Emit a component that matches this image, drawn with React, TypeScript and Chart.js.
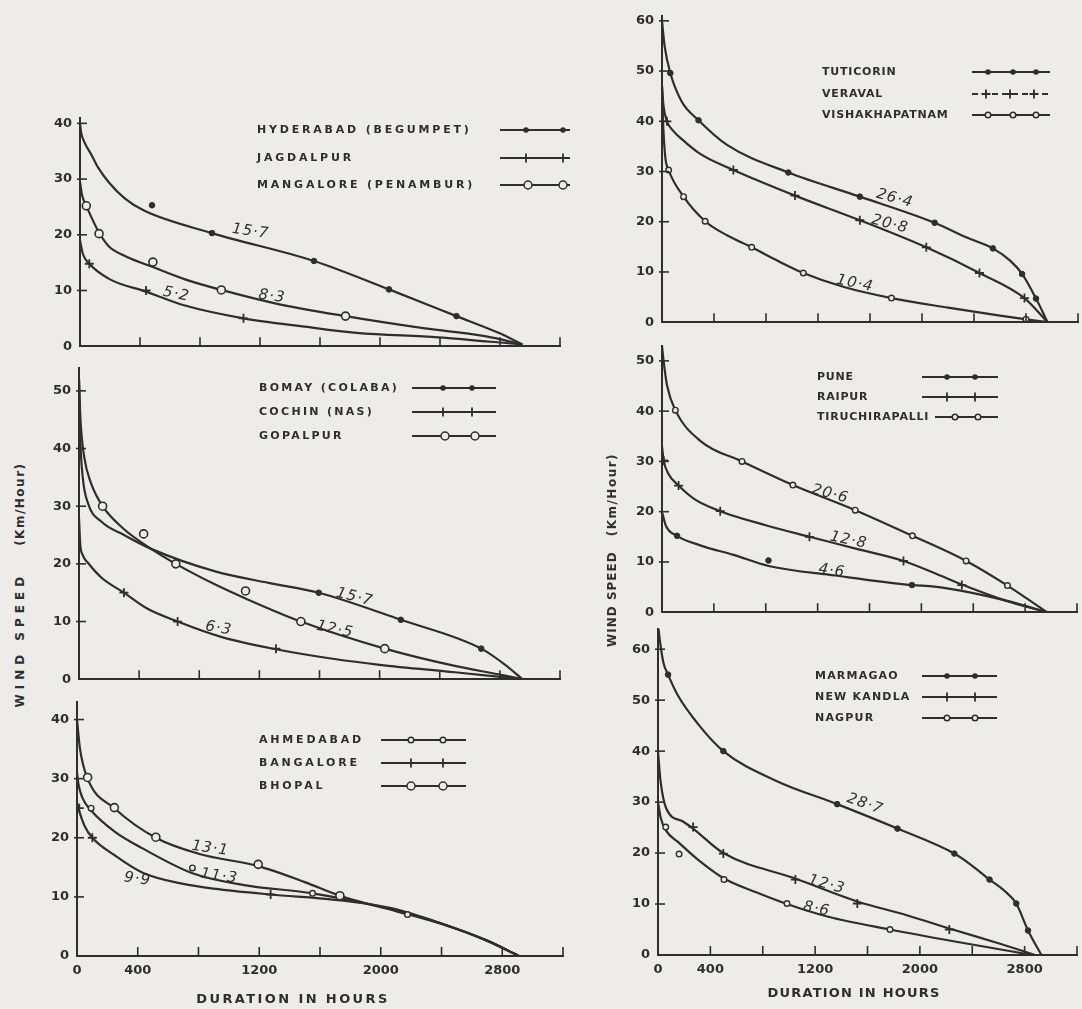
import React, { useEffect, useRef } from "react";
import { Chart, registerables } from "chart.js";
Chart.register(...registerables);

const PAPER = "#edece8";
const INK = "#2e2e2e";
const FONT = "'DejaVu Sans', 'Liberation Sans', sans-serif";

// ---------- axes ----------
const xTickValues = [0, 400, 800, 1200, 1600, 2000, 2400, 2800, 3200];
const xTickLabels = ["0", "400", "", "1200", "", "2000", "", "2800", ""];
const yTicks40 = [0, 10, 20, 30, 40];
const yTicks50 = [0, 10, 20, 30, 40, 50];
const yTicks60 = [0, 10, 20, 30, 40, 50, 60];

// ---------- panel 1 ----------
const hydHours = [0, 8, 30, 75, 120, 193, 300, 430, 880, 1560, 2060, 2510, 2790, 2950];
const hydSpeed = [40, 38.3, 36.6, 34.4, 32.1, 29.4, 26.5, 24.3, 20.3, 15.3, 10.2, 5.4, 2.4, 0.3];
const hydMarkHours = [480, 880, 1560, 2060, 2510];
const hydMarkSpeed = [25.3, 20.3, 15.3, 10.2, 5.4];
const jagHours = [0, 20, 62, 200, 440, 700, 1090, 1500, 1845, 2388, 2950];
const jagSpeed = [19, 16.5, 14.8, 12, 9.8, 7.3, 5.0, 3.5, 2.4, 1.6, 0.3];
const jagMarkHours = [62, 440, 1090];
const jagMarkSpeed = [14.8, 10, 5];
const manHours = [0, 15, 42, 127, 193, 300, 486, 700, 942, 1300, 1770, 2300, 2700, 2950];
const manSpeed = [29.5, 27, 25.2, 20.4, 17.9, 16.2, 14.2, 12, 10.1, 7.7, 5.4, 3.2, 1.8, 0.3];
const manMarkHours = [42, 127, 486, 942, 1770];
const manMarkSpeed = [25.2, 20.2, 15.1, 10.1, 5.4];
const p1LabelText = ["15·7", "5·2", "8·3"];
const p1LabelHours = [1137, 642, 1279];
const p1LabelSpeed = [20.6, 9.3, 8.9];
const p1LabelRot = [8, 12, 8];

// ---------- panel 2 ----------
const bomHours = [0, 8, 25, 60, 150, 300, 480, 906, 1262, 1595, 2141, 2676, 2850, 2950];
const bomSpeed = [52, 42, 35, 30.5, 27.3, 25, 22.6, 18.7, 16.7, 15, 10.3, 5.3, 2.2, 0];
const bomMarkHours = [1595, 2141, 2676];
const bomMarkSpeed = [15, 10.3, 5.3];
const cocHours = [0, 8, 25, 62, 150, 299, 450, 656, 950, 1310, 1700, 2000, 2500, 2950];
const cocSpeed = [28, 23.5, 21.5, 20.1, 17.6, 15, 12.3, 10, 7.3, 5.2, 3.5, 2.5, 1.2, 0];
const cocMarkHours = [299, 656, 1310];
const cocMarkSpeed = [15, 10, 5.3];
const gopHours = [0, 10, 35, 80, 157, 300, 480, 644, 900, 1108, 1476, 2034, 2500, 2800, 2950];
const gopSpeed = [52, 45, 38.5, 34, 30, 26, 22.6, 20, 16.5, 14, 10, 5.3, 2.3, 0.8, 0];
const gopMarkHours = [157, 430, 644, 1108, 1476, 2034];
const gopMarkSpeed = [30, 25.2, 20, 15.3, 10, 5.3];
const p2LabelText = ["15·7", "12·5", "6·3"];
const p2LabelHours = [1833, 1702, 929];
const p2LabelSpeed = [14.2, 8.6, 8.8];
const p2LabelRot = [14, 12, 10];

// ---------- panel 3 ----------
const ahmHours = [0, 10, 35, 93, 250, 432, 760, 1100, 1551, 2000, 2400, 2700, 2910];
const ahmSpeed = [31, 29, 26.8, 24.6, 21, 18.2, 14, 12, 10.6, 8.3, 5.5, 2.6, 0];
const ahmMarkHours = [93, 760, 1551, 2176];
const ahmMarkSpeed = [25, 14.9, 10.6, 7.0];
const banHours = [0, 15, 50, 101, 250, 432, 700, 900, 1275, 1700, 2070, 2400, 2700, 2910];
const banSpeed = [26, 24.5, 22, 20, 17, 14.1, 12.2, 11.4, 10.4, 9.5, 8.1, 5.5, 2.6, 0];
const banMarkHours = [15, 101, 1275];
const banMarkSpeed = [25, 20, 10.4];
const bhoHours = [0, 20, 70, 246, 519, 800, 1193, 1500, 1731, 2100, 2400, 2700, 2910];
const bhoSpeed = [40, 35, 30, 25, 20, 17.3, 15.2, 12.5, 10.2, 7.6, 5.4, 2.6, 0];
const bhoMarkHours = [70, 246, 519, 1193, 1731];
const bhoMarkSpeed = [30.2, 25.1, 20.1, 15.5, 10.2];
const p3LabelText = ["13·1", "11·3", "9·9"];
const p3LabelHours = [877, 936, 398];
const p3LabelSpeed = [18.2, 13.5, 13.0];
const p3LabelRot = [8, 8, 8];

// ---------- panel 4 ----------
const tutHours = [0, 20, 64, 150, 281, 500, 972, 1522, 2097, 2340, 2545, 2680, 2770, 2877, 2966];
const tutSpeed = [60, 55, 49.6, 44, 40.2, 35.3, 29.8, 25, 19.8, 16.9, 14.7, 12.2, 9.6, 4.7, 0];
const tutMarkHours = [64, 281, 972, 1522, 2097, 2545, 2770, 2877];
const tutMarkSpeed = [49.6, 40.2, 29.8, 25, 19.8, 14.7, 9.6, 4.7];
const verHours = [0, 12, 38, 90, 150, 294, 549, 1023, 1522, 2033, 2442, 2788, 2966];
const verSpeed = [47, 43, 40, 38, 36.5, 33.5, 30.3, 25.2, 20.3, 14.9, 9.8, 4.8, 0];
const verMarkHours = [38, 549, 1023, 1522, 2033, 2442, 2788];
const verMarkSpeed = [40, 30.3, 25.2, 20.3, 14.9, 9.8, 4.8];
const visHours = [0, 8, 25, 51, 166, 332, 500, 690, 900, 1087, 1400, 1765, 2200, 2600, 2966];
const visSpeed = [47, 40, 32.9, 30.3, 25, 20.1, 17.3, 14.9, 12.1, 9.8, 7, 4.8, 2.9, 1.3, 0];
const visMarkHours = [51, 166, 332, 690, 1087, 1765, 2800];
const visMarkSpeed = [30.3, 25, 20.1, 14.9, 9.8, 4.8, 0.6];
const p4LabelText = ["26·4", "20·8", "10·4"];
const p4LabelHours = [1790, 1752, 1484];
const p4LabelSpeed = [24.6, 19.5, 7.7];
const p4LabelRot = [15, 15, 12];

// ---------- panel 5 ----------
const punHours = [0, 30, 116, 295, 552, 822, 1335, 1925, 2100, 2400, 2700, 2967];
const punSpeed = [20, 17.2, 15.2, 13.3, 11.4, 9.2, 7.3, 5.4, 5.1, 3.8, 2, 0];
const punMarkHours = [116, 821, 1927];
const punMarkSpeed = [15.2, 10.3, 5.4];
const raiHours = [0, 13, 50, 128, 250, 449, 800, 1137, 1500, 1862, 2100, 2312, 2650, 2967];
const raiSpeed = [33, 30.2, 27.5, 25.2, 22.5, 20.1, 17.3, 15, 12.6, 10.2, 7.8, 5.5, 2.3, 0];
const raiMarkHours = [13, 128, 449, 1137, 1862, 2312];
const raiMarkSpeed = [30.2, 25.2, 20.1, 15, 10.2, 5.4];
const triHours = [0, 13, 40, 103, 300, 617, 1009, 1490, 1931, 2345, 2664, 2967];
const triSpeed = [53, 49.8, 45, 40.2, 34, 30, 25.3, 20.3, 15.2, 10.2, 5.3, 0];
const triMarkHours = [103, 617, 1009, 1490, 1931, 2345, 2664];
const triMarkSpeed = [40.2, 30, 25.3, 20.3, 15.2, 10.2, 5.3];
const p5LabelText = ["20·6", "12·8", "4·6"];
const p5LabelHours = [1296, 1438, 1309];
const p5LabelSpeed = [23.5, 14.3, 8.2];
const p5LabelRot = [15, 12, 8];

// ---------- panel 6 ----------
const marHours = [0, 13, 40, 77, 150, 300, 499, 900, 1368, 1829, 2263, 2400, 2532, 2650, 2736, 2826, 2928];
const marSpeed = [65, 62, 57.5, 55, 51, 45.5, 40, 34.2, 29.6, 24.8, 19.9, 17.5, 14.8, 12.5, 10.1, 4.8, 0];
const marMarkHours = [77, 499, 1368, 1829, 2263, 2532, 2736, 2826];
const marMarkSpeed = [55, 40, 29.6, 24.8, 19.9, 14.8, 10.1, 4.8];
const nkHours = [0, 20, 64, 191, 268, 499, 1049, 1522, 1900, 2225, 2600, 2880];
const nkSpeed = [40, 34, 28.7, 26.2, 24.8, 20, 15, 10.5, 7.8, 5.2, 2.3, 0];
const nkMarkHours = [268, 499, 1049, 1522, 2225];
const nkMarkSpeed = [25.1, 19.9, 14.8, 10.1, 5.0];
const nagHours = [0, 20, 59, 161, 319, 504, 750, 985, 1300, 1772, 2300, 2860];
const nagSpeed = [30, 27, 24.5, 22, 18.4, 15, 12.3, 10, 7.5, 5, 2.5, 0];
const nagMarkHours = [59, 161, 504, 985, 1772];
const nagMarkSpeed = [25.1, 19.8, 14.8, 10.1, 5.0];
const p6LabelText = ["28·7", "12·3", "8·6"];
const p6LabelHours = [1581, 1288, 1211];
const p6LabelSpeed = [29.6, 13.8, 9.0];
const p6LabelRot = [20, 15, 12];

// ---------- helpers ----------
type Series = {
  name: string; hours: number[]; speed: number[];
  markHours: number[]; markSpeed: number[]; marker: string; dashed?: boolean;
};
type Legend = { textX: number; rows: number[]; x0: number[]; x1: number; marks: number[][]; ls: number };
type Labels = { text: string[]; hours: number[]; speed: number[]; rot: number[] };
type PanelCfg = {
  left: number; right: number; top: number; bottom: number; ymax: number;
  yTicks: number[]; showX: boolean; series: Series[]; legend: Legend; labels: Labels;
};

function markerOpts(m: string): any {
  if (m === "dot") return { pointStyle: "circle", pointRadius: 2.8, pointBackgroundColor: INK, pointBorderColor: INK, pointBorderWidth: 1 };
  if (m === "plus") return { pointStyle: "cross", pointRadius: 4.5, pointBackgroundColor: INK, pointBorderColor: INK, pointBorderWidth: 1.8 };
  if (m === "circle") return { pointStyle: "circle", pointRadius: 4, pointBackgroundColor: PAPER, pointBorderColor: INK, pointBorderWidth: 1.6 };
  return { pointStyle: "circle", pointRadius: 2.8, pointBackgroundColor: PAPER, pointBorderColor: INK, pointBorderWidth: 1.4 };
}

function drawMarker(ctx: CanvasRenderingContext2D, m: string, x: number, y: number) {
  ctx.save();
  ctx.strokeStyle = INK;
  ctx.fillStyle = INK;
  if (m === "plus") {
    ctx.lineWidth = 1.8;
    ctx.beginPath();
    ctx.moveTo(x - 4.5, y); ctx.lineTo(x + 4.5, y);
    ctx.moveTo(x, y - 4.5); ctx.lineTo(x, y + 4.5);
    ctx.stroke();
  } else {
    const r = m === "circle" ? 4 : 2.8;
    ctx.beginPath();
    ctx.arc(x, y, r, 0, Math.PI * 2);
    if (m === "dot") ctx.fill();
    else { ctx.fillStyle = PAPER; ctx.fill(); ctx.lineWidth = 1.5; ctx.stroke(); }
  }
  ctx.restore();
}

const PAD_T = 10, PAD_R = 10, Y_W = 44;

function Panel({ cfg }: { cfg: PanelCfg }) {
  const ref = useRef<HTMLCanvasElement>(null);
  const xH = cfg.showX ? 30 : 10;
  const cl = cfg.left - Y_W;
  const ct = cfg.top - PAD_T;
  const w = Y_W + (cfg.right - cfg.left) + PAD_R;
  const h = PAD_T + (cfg.bottom - cfg.top) + xH;

  useEffect(() => {
    const datasets: any[] = [];
    cfg.series.forEach((s) => {
      datasets.push({
        data: s.hours.map((x, i) => ({ x, y: s.speed[i] })),
        borderColor: INK, borderWidth: 2.2, pointRadius: 0,
        cubicInterpolationMode: "monotone", fill: false, order: 2,
      });
      datasets.push({
        data: s.markHours.map((x, i) => ({ x, y: s.markSpeed[i] })),
        showLine: false, order: 1, ...markerOpts(s.marker),
      });
    });

    const decor = {
      id: "decor",
      afterDatasetsDraw(chart: any) {
        const ctx: CanvasRenderingContext2D = chart.ctx;
        const xs = chart.scales.x, ys = chart.scales.y;
        const a = chart.chartArea;
        ctx.save();
        ctx.strokeStyle = INK;
        ctx.lineWidth = 1.6;
        xTickValues.forEach((v) => {
          if (v === 0) return;
          const px = xs.getPixelForValue(v);
          ctx.beginPath(); ctx.moveTo(px, a.bottom); ctx.lineTo(px, a.bottom - 9); ctx.stroke();
        });
        cfg.yTicks.forEach((v) => {
          if (v === 0) return;
          const py = ys.getPixelForValue(v);
          ctx.beginPath(); ctx.moveTo(a.left - 3, py); ctx.lineTo(a.left + 7, py); ctx.stroke();
        });
        const lg = cfg.legend;
        ctx.font = `bold 11px ${FONT}`;
        (ctx as any).letterSpacing = `${lg.ls}px`;
        ctx.fillStyle = INK;
        ctx.textBaseline = "middle";
        ctx.textAlign = "left";
        cfg.series.forEach((s, i) => {
          const ry = lg.rows[i] - ct;
          ctx.fillText(s.name, lg.textX - cl, ry);
          ctx.save();
          ctx.lineWidth = 1.8;
          if (s.dashed) ctx.setLineDash([6, 4]);
          ctx.beginPath();
          ctx.moveTo(lg.x0[i] - cl, ry); ctx.lineTo(lg.x1 - cl, ry); ctx.stroke();
          ctx.restore();
          lg.marks[i].forEach((mx) => drawMarker(ctx, s.marker, mx - cl, ry));
        });
        (ctx as any).letterSpacing = "1px";
        ctx.font = `italic 15px ${FONT}`;
        ctx.textAlign = "center";
        const lb = cfg.labels;
        lb.text.forEach((t, i) => {
          ctx.save();
          ctx.translate(xs.getPixelForValue(lb.hours[i]), ys.getPixelForValue(lb.speed[i]));
          ctx.rotate((lb.rot[i] * Math.PI) / 180);
          ctx.fillText(t, 0, 0);
          ctx.restore();
        });
        ctx.restore();
      },
    };

    const tickFont = { family: FONT, weight: "bold" as const, size: 13 };
    const chart = new Chart(ref.current as HTMLCanvasElement, {
      type: "line",
      data: { datasets },
      options: {
        animation: false,
        responsive: true,
        maintainAspectRatio: false,
        events: [],
        layout: { padding: { top: PAD_T, right: PAD_R, left: 0, bottom: 0 } },
        plugins: { legend: { display: false }, tooltip: { enabled: false } },
        scales: {
          x: {
            type: "linear", min: 0, max: 3200,
            afterBuildTicks: (s: any) => { s.ticks = xTickValues.map((v) => ({ value: v })); },
            afterFit: (s: any) => { s.height = xH; },
            grid: { display: false, drawTicks: false },
            border: { display: true, color: INK, width: 2 },
            ticks: {
              display: cfg.showX, padding: 7, color: INK, font: tickFont,
              autoSkip: false, maxRotation: 0,
              callback: (v: any) => { const k = xTickValues.indexOf(Number(v)); return k >= 0 ? xTickLabels[k] : ""; },
            },
          },
          y: {
            type: "linear", min: 0, max: cfg.ymax,
            afterBuildTicks: (s: any) => { s.ticks = cfg.yTicks.map((v) => ({ value: v })); },
            afterFit: (s: any) => { s.width = Y_W; },
            grid: { display: false, drawTicks: false },
            border: { display: true, color: INK, width: 2 },
            ticks: { padding: 8, color: INK, font: tickFont, callback: (v: any) => String(v) },
          },
        },
      } as any,
      plugins: [decor],
    });
    return () => chart.destroy();
  }, []);

  return (
    <div style={{ position: "absolute", left: cl, top: ct, width: w, height: h }}>
      <canvas ref={ref} />
    </div>
  );
}

const panels: PanelCfg[] = [
  {
    left: 80, right: 560, top: 112, bottom: 352, ymax: 41, yTicks: yTicks40, showX: false,
    series: [
      { name: "HYDERABAD (BEGUMPET)", hours: hydHours, speed: hydSpeed, markHours: hydMarkHours, markSpeed: hydMarkSpeed, marker: "dot" },
      { name: "JAGDALPUR", hours: jagHours, speed: jagSpeed, markHours: jagMarkHours, markSpeed: jagMarkSpeed, marker: "plus" },
      { name: "MANGALORE (PENAMBUR)", hours: manHours, speed: manSpeed, markHours: manMarkHours, markSpeed: manMarkSpeed, marker: "circle" },
    ],
    legend: { textX: 257, rows: [130, 158, 185], x0: [500, 500, 500], x1: 592, marks: [[526, 563], [526, 563], [528, 563]], ls: 2.8 },
    labels: { text: p1LabelText, hours: p1LabelHours, speed: p1LabelSpeed, rot: p1LabelRot },
  },
  {
    left: 79, right: 560, top: 362, bottom: 685, ymax: 54, yTicks: yTicks50, showX: false,
    series: [
      { name: "BOMAY (COLABA)", hours: bomHours, speed: bomSpeed, markHours: bomMarkHours, markSpeed: bomMarkSpeed, marker: "dot" },
      { name: "COCHIN (NAS)", hours: cocHours, speed: cocSpeed, markHours: cocMarkHours, markSpeed: cocMarkSpeed, marker: "plus" },
      { name: "GOPALPUR", hours: gopHours, speed: gopSpeed, markHours: gopMarkHours, markSpeed: gopMarkSpeed, marker: "circle" },
    ],
    legend: { textX: 259, rows: [388, 412, 436], x0: [412, 412, 412], x1: 496, marks: [[443, 472], [443, 472], [445, 475]], ls: 2.3 },
    labels: { text: p2LabelText, hours: p2LabelHours, speed: p2LabelSpeed, rot: p2LabelRot },
  },
  {
    left: 77, right: 563, top: 696, bottom: 956, ymax: 43, yTicks: yTicks40, showX: true,
    series: [
      { name: "AHMEDABAD", hours: ahmHours, speed: ahmSpeed, markHours: ahmMarkHours, markSpeed: ahmMarkSpeed, marker: "smallcircle" },
      { name: "BANGALORE", hours: banHours, speed: banSpeed, markHours: banMarkHours, markSpeed: banMarkSpeed, marker: "plus" },
      { name: "BHOPAL", hours: bhoHours, speed: bhoSpeed, markHours: bhoMarkHours, markSpeed: bhoMarkSpeed, marker: "circle" },
    ],
    legend: { textX: 259, rows: [740, 763, 786], x0: [381, 381, 381], x1: 466, marks: [[411, 443], [411, 443], [411, 443]], ls: 2.8 },
    labels: { text: p3LabelText, hours: p3LabelHours, speed: p3LabelSpeed, rot: p3LabelRot },
  },
  {
    left: 662, right: 1078, top: 10, bottom: 328, ymax: 61, yTicks: yTicks60, showX: false,
    series: [
      { name: "TUTICORIN", hours: tutHours, speed: tutSpeed, markHours: tutMarkHours, markSpeed: tutMarkSpeed, marker: "dot" },
      { name: "VERAVAL", hours: verHours, speed: verSpeed, markHours: verMarkHours, markSpeed: verMarkSpeed, marker: "plus", dashed: true },
      { name: "VISHAKHAPATNAM", hours: visHours, speed: visSpeed, markHours: visMarkHours, markSpeed: visMarkSpeed, marker: "smallcircle" },
    ],
    legend: { textX: 822, rows: [72, 94, 115], x0: [972, 972, 972], x1: 1050, marks: [[988, 1013, 1036], [986, 1010, 1034], [988, 1013, 1036]], ls: 0.8 },
    labels: { text: p4LabelText, hours: p4LabelHours, speed: p4LabelSpeed, rot: p4LabelRot },
  },
  {
    left: 662, right: 1077, top: 340, bottom: 618, ymax: 53, yTicks: yTicks50, showX: false,
    series: [
      { name: "PUNE", hours: punHours, speed: punSpeed, markHours: punMarkHours, markSpeed: punMarkSpeed, marker: "dot" },
      { name: "RAIPUR", hours: raiHours, speed: raiSpeed, markHours: raiMarkHours, markSpeed: raiMarkSpeed, marker: "plus" },
      { name: "TIRUCHIRAPALLI", hours: triHours, speed: triSpeed, markHours: triMarkHours, markSpeed: triMarkSpeed, marker: "smallcircle" },
    ],
    legend: { textX: 817, rows: [377, 397, 417], x0: [922, 922, 935], x1: 998, marks: [[947, 975], [947, 975], [955, 978]], ls: 0.8 },
    labels: { text: p5LabelText, hours: p5LabelHours, speed: p5LabelSpeed, rot: p5LabelRot },
  },
  {
    left: 658, right: 1077, top: 623, bottom: 955, ymax: 64, yTicks: yTicks60, showX: true,
    series: [
      { name: "MARMAGAO", hours: marHours, speed: marSpeed, markHours: marMarkHours, markSpeed: marMarkSpeed, marker: "dot" },
      { name: "NEW KANDLA", hours: nkHours, speed: nkSpeed, markHours: nkMarkHours, markSpeed: nkMarkSpeed, marker: "plus" },
      { name: "NAGPUR", hours: nagHours, speed: nagSpeed, markHours: nagMarkHours, markSpeed: nagMarkSpeed, marker: "smallcircle" },
    ],
    legend: { textX: 815, rows: [676, 697, 718], x0: [922, 922, 922], x1: 997, marks: [[947, 975], [947, 975], [947, 975]], ls: 1.2 },
    labels: { text: p6LabelText, hours: p6LabelHours, speed: p6LabelSpeed, rot: p6LabelRot },
  },
];

const titleStyle: React.CSSProperties = {
  position: "absolute", fontFamily: FONT, fontWeight: "bold", color: INK, whiteSpace: "nowrap",
};

function VTitle({ cx, cy, ls1, gap, ls2 }: { cx: number; cy: number; ls1: number; gap: number; ls2: number }) {
  return (
    <div style={{ ...titleStyle, left: cx, top: cy, fontSize: 12, transform: "translate(-50%, -50%) rotate(-90deg)" }}>
      <span style={{ letterSpacing: ls1 }}>WIND SPEED</span>
      <span style={{ display: "inline-block", width: gap }} />
      <span style={{ letterSpacing: ls2 }}>(Km/Hour)</span>
    </div>
  );
}

export default function App() {
  return (
    <div style={{ position: "absolute", left: 0, top: 0, width: 1082, height: 1009, background: PAPER, overflow: "hidden" }}>
      {panels.map((p, i) => <Panel key={i} cfg={p} />)}
      <VTitle cx={20} cy={585} ls1={5} gap={26} ls2={1.5} />
      <VTitle cx={612} cy={550} ls1={1} gap={15} ls2={1.5} />
      <div style={{ ...titleStyle, left: 293, top: 998, fontSize: 13, letterSpacing: 2.4, transform: "translate(-50%, -50%)" }}>DURATION IN HOURS</div>
      <div style={{ ...titleStyle, left: 854, top: 992, fontSize: 13, letterSpacing: 1.2, transform: "translate(-50%, -50%)" }}>DURATION IN HOURS</div>
    </div>
  );
}
